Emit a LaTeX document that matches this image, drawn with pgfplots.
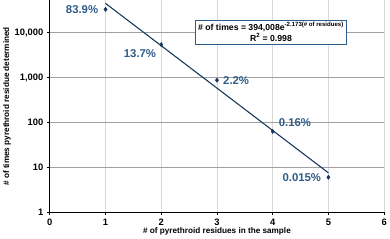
\documentclass[border=0pt]{standalone}
\usepackage{pgfplots}
\pgfplotsset{compat=1.18}
\usepackage{fontspec}
\setmainfont{Liberation Sans}
\definecolor{navy}{HTML}{17375E}
\definecolor{lblblue}{HTML}{2E5C8A}
\definecolor{gmaj}{HTML}{A0A0A0}
\definecolor{gmin}{HTML}{D9D9D9}
\begin{document}
\begin{tikzpicture}
\begin{axis}[
  scale only axis,
  width=338bp, height=214bp,
  xmin=0, xmax=6, ymin=1, ymax=52000,
  ymode=log, log basis y=10,
  xtick={0,1,2,3,4,5,6},
  ytick={1,10,100,1000,10000},
  yticklabels={1,10,100,{1,000},{10,000}},
  axis x line*=bottom, axis y line*=left,
  axis line style={black, line width=1pt, -},
  tick align=outside,
  major tick length=3pt, minor tick length=2pt,
  tick style={black, line width=0.6pt},
  grid=both,
  major grid style={gmaj, line width=0.8pt},
  minor grid style={gmin, line width=0.6pt},
  x grid style={gmin, line width=0.7pt},
  /pgf/number format/assume math mode=true,
  ticklabel style={font=\fontsize{9.5}{11}\selectfont\bfseries},
  xlabel={\fontsize{8.3}{10}\selectfont\bfseries \# of pyrethroid residues in the sample},
  ylabel={\fontsize{8.3}{10}\selectfont\bfseries \# of times pyrethroid residue determined},
  xlabel style={yshift=4pt},
  ylabel style={yshift=-3pt},
  clip=false,
]
\addplot[navy, line width=1.1pt] coordinates {(1,44850) (5,7.52)};
\addplot[only marks, mark=diamond*, mark size=2.2pt, navy] coordinates {
  (1,33050) (2,5400) (3,870) (4,63) (5,6)};
\node[font=\fontsize{11.5}{13}\selectfont\bfseries, text=lblblue, anchor=east] at (axis cs:0.93,33050) {83.9\%};
\node[font=\fontsize{11.5}{13}\selectfont\bfseries, text=lblblue, anchor=north east] at (axis cs:1.97,5000) {13.7\%};
\node[font=\fontsize{11.5}{13}\selectfont\bfseries, text=lblblue, anchor=west] at (axis cs:3.05,870) {2.2\%};
\node[font=\fontsize{11.5}{13}\selectfont\bfseries, text=lblblue, anchor=south west] at (axis cs:4.05,68) {0.16\%};
\node[font=\fontsize{11.5}{13}\selectfont\bfseries, text=lblblue, anchor=east] at (axis cs:4.93,6) {0.015\%};
\node[draw=lblblue, fill=white, line width=0.7pt, align=center, inner sep=2.5pt,
  font=\fontsize{8.8}{11}\selectfont\bfseries] at (axis cs:3.97,10300)
  {\# of times = 394,008e\textsuperscript{-2.173(\# of residues)}\\R\textsuperscript{2} = 0.998};
\end{axis}
\end{tikzpicture}
\end{document}
